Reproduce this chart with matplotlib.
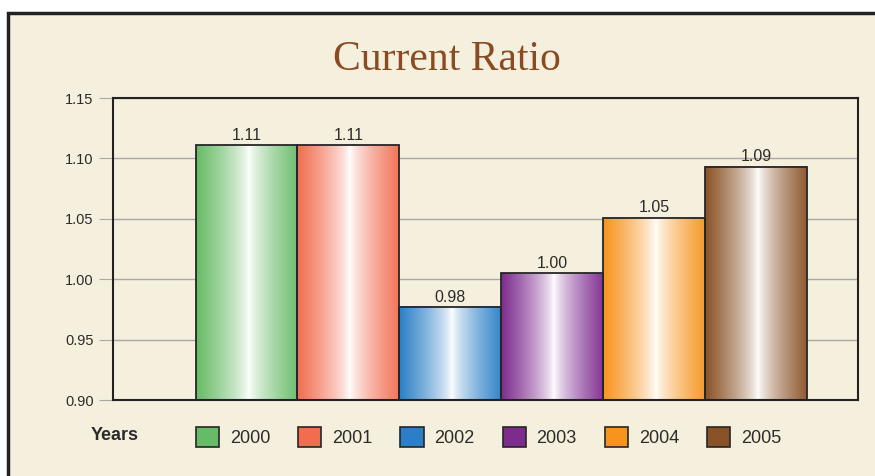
import numpy as np
import matplotlib.pyplot as plt
from matplotlib.colors import to_rgb
from matplotlib.patches import Rectangle, Patch

# Data
years = ['2000', '2001', '2002', '2003', '2004', '2005']
ratios = [1.111, 1.111, 0.977, 1.005, 1.051, 1.093]
labels = ['1.11', '1.11', '0.98', '1.00', '1.05', '1.09']
colors = ['#66bb66', '#f26d50', '#2a7fc6', '#7e2b8e', '#f7941e', '#8a5226']

bg = '#f5f0dd'
txt = '#2b2b2b'

plt.rcParams['font.family'] = ['Liberation Sans', 'DejaVu Sans']

fig = plt.figure(figsize=(8.75, 4.76), dpi=100, facecolor='white')

# outer frame
frame = Rectangle((8 / 875, -0.2), 1.2, 0.973 + 0.2, transform=fig.transFigure,
                  facecolor=bg, edgecolor='#222222', linewidth=2.5, clip_on=False, zorder=-10)
fig.patches.append(frame)

ax = fig.add_axes([113 / 875, 1 - 400 / 476, 745 / 875, 302 / 476])
ax.set_facecolor(bg)

x = np.arange(len(years))
bars = ax.bar(x, ratios, width=1.0, bottom=0, facecolor='none',
              edgecolor='#262626', linewidth=1.3, zorder=3)

# gradient fill: colour at the edges, white near the middle
s = np.linspace(0, 1, 256)
t = np.clip(np.abs(s - 0.52) / 0.52, 0, 1) ** 0.75
for bar, c in zip(bars, colors):
    rgb = np.array(to_rgb(c))
    grad = (1 - t)[:, None] * np.ones(3) + t[:, None] * rgb
    img = grad[None, :, :]
    x0, w, h = bar.get_x(), bar.get_width(), bar.get_height()
    ax.imshow(img, extent=[x0, x0 + w, 0, h], aspect='auto', zorder=2,
              interpolation='bilinear')

for bar, lab in zip(bars, labels):
    ax.text(bar.get_x() + bar.get_width() / 2, bar.get_height() + 0.002, lab,
            ha='center', va='bottom', fontsize=11.5, color=txt)

ax.set_xlim(-1.31, 6.0)
ax.set_ylim(0.90, 1.15)
ax.set_yticks([0.90, 0.95, 1.00, 1.05, 1.10, 1.15])
ax.set_yticklabels(['0.90', '0.95', '1.00', '1.05', '1.10', '1.15'])
ax.set_xticks([])
ax.yaxis.grid(True, color='#a8a8a8', linewidth=1.0, zorder=0)
ax.set_axisbelow(True)
ax.tick_params(axis='y', length=10, color='#a8a8a8', labelsize=10.5, labelcolor=txt, pad=4)
for sp in ax.spines.values():
    sp.set_color('#222222')
    sp.set_linewidth(1.5)

fig.text(447 / 875, 1 - 60 / 476, 'Current Ratio', ha='center', va='center',
         fontsize=30, color='#8a4a22', family='Liberation Serif')

fig.text(91 / 875, 1 - 435 / 476, 'Years', ha='left', va='center',
         fontsize=13, fontweight='bold', color=txt)

handles = [Patch(facecolor=c, edgecolor='#262626', linewidth=1.2) for c in colors]
fig.legend(handles, years, loc='center left', bbox_to_anchor=(196 / 875, 1 - 437 / 476),
           ncol=6, frameon=False, fontsize=13, handlelength=1.28, handleheight=1.33,
           handletextpad=0.6, columnspacing=1.55, borderpad=0, borderaxespad=0,
           labelcolor=txt)

fig.savefig('out.png', dpi=100, facecolor='white')
